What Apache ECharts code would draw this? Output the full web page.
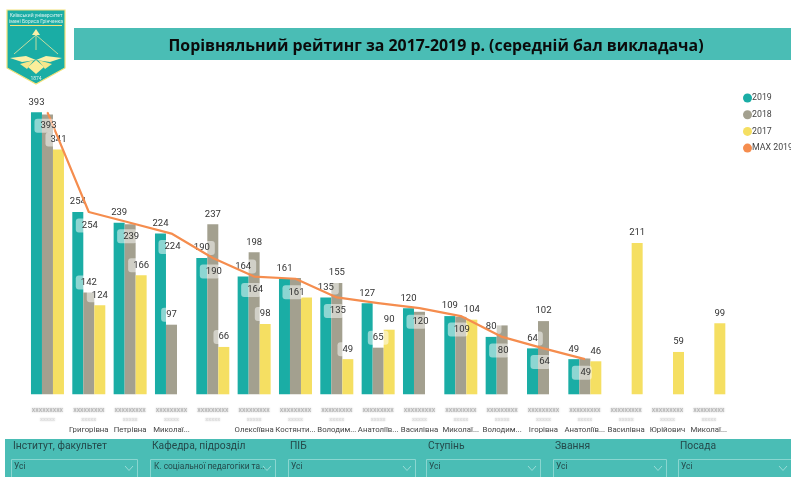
<!DOCTYPE html>
<html><head><meta charset="utf-8">
<style>html,body{margin:0;padding:0;background:#fff}#c{width:791px;height:477px}</style>
<script src="https://cdn.jsdelivr.net/npm/echarts@6/dist/echarts.min.js"></script>
</head><body><div id="c"></div>
<script>
const titleText = 'Порівняльний рейтинг за 2017-2019 р. (середній бал викладача)';
const givenNames = ['','Григорівна','Петрівна','Миколаї...','','Олексіївна','Костянти...','Володим...','Анатоліїв...','Василівна','Миколаї...','Володим...','Ігорівна','Анатоліїв...','Василівна','Юрійович','Миколаї...'];
const v2019 = [393,254,239,224,190,164,161,135,127,120,109,80,64,49,null,null,null];
const v2018 = [390,142,237,97,237,198,162,155,65,115,108,96,102,50,null,null,null];
const v2017 = [341,124,166,null,66,98,135,49,90,null,104,null,null,46,211,59,99];
const vMax  = [393,254,239,224,190,164,161,135,127,120,109,80,64,49,null,null,null];
const unlabelled2018 = [0,2,6,9,10,11,13];
const unlabelled2017 = [6];
const unlabelledMax = [8];
const slicerNames = ['Інститут, факультет','Кафедра, підрозділ','ПІБ','Ступінь','Звання','Посада'];
const slicerValues = ['Усі','К. соціальної педагогіки та...','Усі','Усі','Усі','Усі'];
const slicerX = [11,150,288,426,553,678];
const slicerW = [126,125,127,114,113,113];

const TEAL='#1AADA5',GREY='#A3A08F',YEL='#F5DF62',ORG='#F58D4E',BAND='#4ABDB5';
const FONT='Roboto,"Noto Sans",sans-serif';
const barLabel={show:true,position:'top',distance:3,fontSize:9.5,fontFamily:FONT,color:'#333',backgroundColor:'rgba(255,255,255,0.5)',borderRadius:3,padding:[2,5]};
function items(arr,hidden){return arr.map((v,i)=>hidden.includes(i)?{value:v,label:{show:false}}:v);}

const g=[];
g.push({type:'rect',z:0,shape:{x:74,y:28,width:717,height:32},style:{fill:BAND}});
g.push({type:'rect',z:0,shape:{x:5,y:439,width:786,height:38},style:{fill:BAND}});
slicerNames.forEach((n,i)=>{
  const x=slicerX[i],w=slicerW[i];
  g.push({type:'text',z:2,x:x+2,y:441,style:{text:n,fontSize:10.3,fontFamily:FONT,fill:'#24494a'}});
  g.push({type:'rect',z:1,shape:{x:x+.5,y:459.5,width:w,height:20},style:{fill:'none',stroke:'#8AD6D0',lineWidth:1}});
  g.push({type:'text',z:2,x:x+(i==1?4:3),y:463,style:{text:slicerValues[i],fontSize:8.4,fontFamily:FONT,fill:'#24494a'}});
  const cx=x+w-8;
  g.push({type:'polyline',z:2,shape:{points:[[cx-4,466],[cx,470.5],[cx+4,466]]},style:{fill:'none',stroke:'#9adcd7',lineWidth:1}});
});
// logo
g.push({type:'polygon',z:1,shape:{points:[[7,10],[65,10],[65,68],[36,84],[7,68]]},style:{fill:TEAL,stroke:'#F2E27A',lineWidth:1.2}});
g.push({type:'text',z:2,x:36,y:13,style:{text:'Київський університет',fontSize:5,fontFamily:FONT,fill:'#d8f2ee',align:'center'}});
g.push({type:'text',z:2,x:36,y:19,style:{text:'імені Бориса Грінченка',fontSize:5,fontFamily:FONT,fill:'#d8f2ee',align:'center'}});
g.push({type:'line',z:2,shape:{x1:10,y1:25.5,x2:62,y2:25.5},style:{stroke:'#F2E27A',lineWidth:1}});
g.push({type:'polygon',z:2,shape:{points:[[36,29],[40,35],[32,35]]},style:{fill:'#FBF0A8'}});
g.push({type:'polyline',z:2,shape:{points:[[14,54],[36,35],[58,54]]},style:{fill:'none',stroke:'#EFE9A0',lineWidth:.8}});
g.push({type:'line',z:2,shape:{x1:36,y1:35,x2:36,y2:50},style:{stroke:'#EFE9A0',lineWidth:.8}});
g.push({type:'polygon',z:2,shape:{points:[[10,58],[26,56],[36,60],[22,62]]},style:{fill:'#FBF0A8'}});
g.push({type:'polygon',z:2,shape:{points:[[62,58],[46,56],[36,60],[50,62]]},style:{fill:'#FBF0A8'}});
g.push({type:'polygon',z:2,shape:{points:[[36,60],[44,67],[36,74],[28,67]]},style:{fill:'#FBEE9A'}});
g.push({type:'polygon',z:2,shape:{points:[[34,60],[20,64],[27,69]]},style:{fill:'#F5E68A'}});
g.push({type:'polygon',z:2,shape:{points:[[38,60],[52,64],[45,69]]},style:{fill:'#F5E68A'}});
g.push({type:'text',z:2,x:36,y:76,style:{text:'1874',fontSize:5,fontFamily:FONT,fill:'#d8f2ee',align:'center'}});

const chart=echarts.init(document.getElementById('c'),null,{renderer:'canvas'});
chart.setOption({
  animation:false,
  backgroundColor:'#fff',
  title:{text:titleText,left:431,top:33,textAlign:'center',textStyle:{fontSize:15.9,fontWeight:'bold',fontFamily:'"Open Sans",sans-serif',color:'#0b0b0b'}},
  grid:{left:26.8,width:702.7,top:100.1,bottom:82.7,containLabel:false},
  legend:{orient:'vertical',left:738,top:88.5,itemWidth:9,itemHeight:9,itemGap:7.7,icon:'circle',textStyle:{fontSize:8.8,fontFamily:FONT,color:'#444',padding:[0,0,0,-5]},
    data:['2019','2018','2017','MAX 2019']},
  xAxis:{type:'category',data:givenNames,axisLine:{show:false},axisTick:{show:false},
    axisLabel:{interval:0,margin:11,width:41,overflow:'none',
      formatter:(v)=>'{a|ххххххххх}\n{b|ххххх}\n{c|'+(v||' ')+'}',
      rich:{a:{fontSize:7,lineHeight:10,color:'#b4b4b4',fontFamily:FONT,textShadowColor:'#999',textShadowBlur:2},
            b:{fontSize:6,lineHeight:9,color:'#dcdcdc',fontFamily:FONT,textShadowColor:'#bbb',textShadowBlur:2},
            c:{fontSize:7.8,lineHeight:12,color:'#444',fontFamily:FONT}}}},
  yAxis:{type:'value',min:0,max:410,show:false},
  series:[
    {name:'2019',type:'bar',barWidth:11,barGap:0,data:v2019,itemStyle:{color:TEAL},label:barLabel},
    {name:'2018',type:'bar',barWidth:11,barGap:0,data:items(v2018,unlabelled2018),itemStyle:{color:GREY},label:barLabel},
    {name:'2017',type:'bar',barWidth:11,barGap:0,data:items(v2017,unlabelled2017),itemStyle:{color:YEL},label:barLabel},
    {name:'MAX 2019',type:'line',data:items(vMax,unlabelledMax),symbol:'circle',symbolSize:1,showSymbol:true,showAllSymbol:true,z:5,connectNulls:false,
      lineStyle:{color:ORG,width:2.2,join:'round'},itemStyle:{color:ORG},
      label:{show:true,position:'bottom',distance:6,fontSize:9.5,fontFamily:FONT,color:'#333',backgroundColor:'rgba(255,255,255,0.5)',borderRadius:3,padding:[2,0,2,8],width:12,overflow:'none',offset:[-3,0]}}
  ],
  graphic:g
});
</script></body></html>
